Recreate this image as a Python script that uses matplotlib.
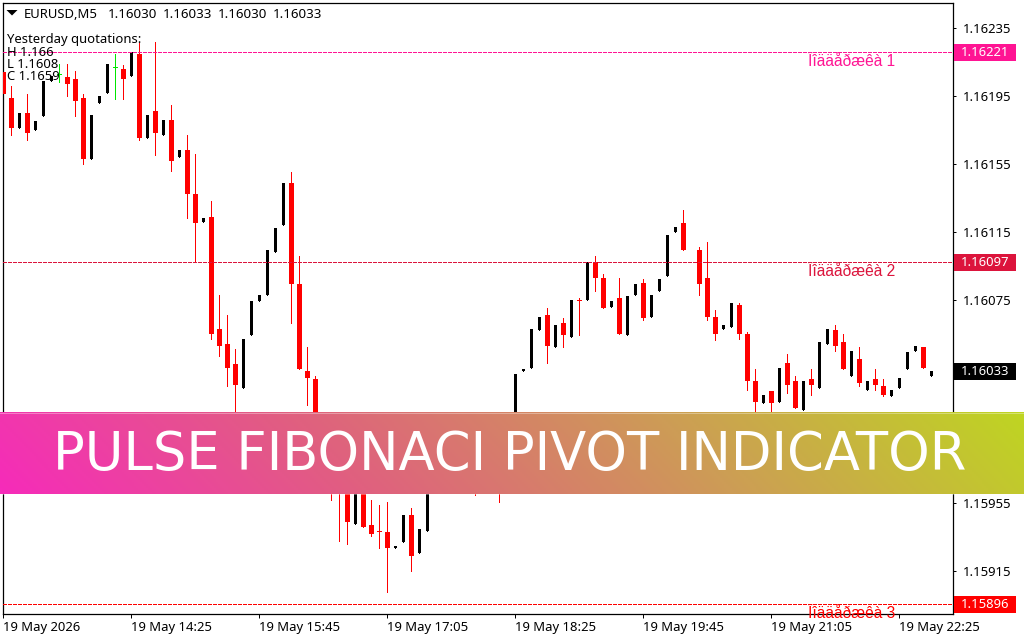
import numpy as np
import matplotlib
matplotlib.use("Agg")
import matplotlib.pyplot as plt
from matplotlib.patches import Rectangle, Polygon
from matplotlib.colors import LinearSegmentedColormap

N = np.nan
# Bar values in points above 1.16000 (1 point = 0.00001)
opens = [209,194,176,185,175,183,204,208,206,205,194,158,191,197,212,211,207,220,170,186,172,181,159,163,137,121,124,58,49,37,
         23,54,74,78,103,119,144,84,33,28,-8,-22,-25,-31,-57,-36,-58,-61,-62,-71,-68,-52,-74,-61,-31,-20,-10,-18,-8,-15,-25,-12,-2,-15,
         0,33,35,57,66,47,61,53,75,75,97,88,71,76,54,78,85,65,80,89,115,120,N,104,88,65,58,59,72,55,27,14,21,15,38,27,10,28,23,49,57,50,30,40,22,28,24,18,23,34,45,47,30]
highs = [210,201,185,196,180,204,207,214,214,210,196,184,195,214,220,213,221,226,184,227,181,190,163,172,161,123,133,78,66,46,
         52,74,78,104,117,144,150,101,47,30,-4,-15,-20,-25,-37,-30,-43,-46,-44,-70,-52,-48,-60,-31,-20,-10,-10,-8,-8,-5,-12,-2,5,0,
         31,34,58,65,70,60,64,75,76,97,101,90,74,88,77,84,87,78,87,113,118,128,N,106,109,69,60,73,73,56,34,19,21,35,43,30,27,34,50,58,60,55,45,47,27,34,28,22,29,44,48,47,33]
lows = [179,172,176,169,175,183,204,203,195,183,155,158,191,197,193,193,207,169,170,160,172,151,159,123,97,121,52,42,24,4,
        23,54,74,78,103,119,61,34,13,-10,-28,-43,-67,-69,-57,-59,-64,-71,-97,-71,-68,-85,-74,-61,-31,-20,-18,-18,-15,-40,-25,-12,-44,-15,
        0,33,35,57,38,47,47,53,54,75,80,70,71,55,54,78,63,65,80,89,115,104,N,78,63,51,58,59,52,22,9,14,8,15,20,11,10,19,23,49,45,34,30,24,22,22,18,18,23,34,45,35,30]
closes = [196,176,185,173,180,204,207,208,202,192,158,184,195,214,212,205,221,170,184,173,181,157,163,137,120,123,55,48,35,25,
          52,74,78,104,117,144,84,34,29,-8,-22,-34,-37,-56,-37,-59,-63,-62,-71,-70,-52,-76,-60,-31,-20,-10,-18,-8,-15,-25,-12,-2,-15,0,
          31,34,58,65,48,60,54,75,74,97,88,70,74,55,77,84,64,78,87,113,118,104,N,84,65,55,60,73,55,27,15,19,14,35,25,11,27,25,50,58,48,34,45,26,27,25,19,22,29,44,48,35,33]
doji_bars = [7, 14]

price_ticks = [1.16235, 1.16195, 1.16155, 1.16115, 1.16075, 1.15955, 1.15915]
time_ticks = [0, 16, 32, 48, 64, 80, 96, 112]
time_labels = ["19 May 2026", "19 May 14:25", "19 May 15:45", "19 May 17:05",
               "19 May 18:25", "19 May 19:45", "19 May 21:05", "19 May 22:25"]
level_values = [1.16221, 1.16097, 1.15896]
level_names = ["Ïîääåðæêà 1", "Ïîääåðæêà 2", "Ïîääåðæêà 3"]
level_colors = ["#FF1493", "#DC143C", "#FF0000"]
last_price = 1.16033
header_name = "EURUSD,M5"
header_ohlc = ["1.16030", "1.16033", "1.16030", "1.16033"]
quotes = ["Yesterday quotations:", "H 1.166", "L 1.1608", "C 1.1659"]
banner = "PULSE FIBONACI PIVOT INDICATOR"

to_price = lambda a: 1.16 + np.array(a, dtype=float) / 1e5
o, h, l, c = map(to_price, (opens, highs, lows, closes))
x = np.arange(len(o))

W, H = 1024, 640
FONT = "Noto Sans"
fig = plt.figure(figsize=(W / 100, H / 100), dpi=100, facecolor="white")
L_, R_, T_, B_ = 2.5, 952.5, 2.5, 613.5
ax = fig.add_axes([L_ / W, 1 - B_ / H, (R_ - L_) / W, (B_ - T_) / H])
ax.set_xlim(-0.0625, -0.0625 + (R_ - L_) / 8)
ax.set_ylim(1.1589014, 1.162501)

for i in x:
    if np.isnan(o[i]):
        continue
    if i in doji_bars:
        col = "#00E600"
        ax.vlines(i, l[i], h[i], color=col, lw=0.72, antialiased=False, zorder=2)
        ax.hlines(o[i], i - 0.3, i + 0.3, color=col, lw=0.72, antialiased=False, zorder=2)
        continue
    up = c[i] >= o[i]
    col = "#000000" if up else "#FF0000"
    ax.vlines(i, l[i], h[i], color=col, lw=0.72, antialiased=False, zorder=2)
    wid = 3 / 8 if up else 5 / 8
    ax.bar(i, abs(c[i] - o[i]), bottom=min(o[i], c[i]), width=wid, color=col,
           linewidth=0, antialiased=False, zorder=3)

for v, col in zip(level_values, level_colors):
    ax.axhline(v, color=col, lw=0.72, dashes=(3, 2), antialiased=False, zorder=4)

ax.yaxis.tick_right()
ax.set_yticks(price_ticks)
ax.set_yticklabels([f"{p:.5f}" for p in price_ticks], fontsize=9.4, family=FONT, color="#000000")
ax.set_xticks(time_ticks)
ax.set_xticklabels(time_labels, fontsize=9.4, family=FONT, color="#000000", ha="left")
ax.tick_params(axis="y", length=2.5, width=0.72, pad=5, color="black")
ax.tick_params(axis="x", length=3, width=0.72, pad=2.5, color="black")
for s in ax.spines.values():
    s.set_linewidth(0.9)
    s.set_color("black")

# overlay in pixel coordinates for the chart furniture
ov = fig.add_axes([0, 0, 1, 1], facecolor="none", zorder=10)
ov.set_xlim(0, W)
ov.set_ylim(H, 0)
ov.axis("off")
fig.canvas.draw()
def py(p):
    return H - ax.transData.transform((0, p))[1]

for v, name, col in zip(level_values, level_names, level_colors):
    yy = py(v)
    ov.add_patch(Rectangle((954, yy - 8), 62, 17, color=col, lw=0, zorder=5))
    ov.text(985, yy + 0.5, f"{v:.5f}", color="white", ha="center", va="center", fontsize=9.4, family=FONT, zorder=6)
    t = ov.text(808, yy + 9.5, name, color=col, ha="left", va="center", fontsize=11.2, family="Liberation Sans", zorder=1)
    t.set_clip_path(Rectangle((0, 0), 952, 613, transform=ov.transData))
yy = py(last_price)
ov.add_patch(Rectangle((954, yy - 8), 62, 17, color="black", lw=0, zorder=5))
ov.text(985, yy + 0.5, f"{last_price:.5f}", color="white", ha="center", va="center", fontsize=9.4, family=FONT, zorder=6)

ov.add_patch(Polygon([(6.5, 10), (17.5, 10), (12, 15.5)], closed=True, color="black", lw=0))
ov.text(24, 14.5, header_name, fontsize=9.4, family=FONT, color="black", ha="left", va="center")
for xx, s in zip([108, 163, 218, 273], header_ohlc):
    ov.text(xx, 14.5, s, fontsize=9.6, family=FONT, color="black", ha="left", va="center")
for yy, s in zip([39.5, 52, 64, 76], quotes):
    ov.text(7, yy, s, fontsize=9.4, family=FONT, color="black", ha="left", va="center", zorder=6)

# diagonal gradient banner: pink at the lower left, yellow-green at the upper right
gx, gy = np.meshgrid(np.linspace(0, 1, 512), np.linspace(0, 1, 41))
grad = np.clip(gx * 0.93 + (1 - gy) * 0.07, 0, 1)
cmap = LinearSegmentedColormap.from_list("b", ["#F62BBA", "#E0607F", "#CD9C56", "#BFD522"])
ov.imshow(grad, extent=(0, W, 494.5, 413), cmap=cmap, vmin=0, vmax=1, aspect="auto", zorder=8)
ov.set_xlim(0, W)
ov.set_ylim(H, 0)
ov.add_patch(Rectangle((0, 413), W, 1, color="white", alpha=0.35, lw=0, zorder=8.5))
ov.add_patch(Rectangle((0, 493.5), W, 1, color="white", alpha=0.35, lw=0, zorder=8.5))
ov.text(509.5, 470, banner, color="white", fontsize=38, family="DejaVu Sans",
        ha="center", va="baseline", zorder=9)

fig.savefig("out.png", dpi=100)
